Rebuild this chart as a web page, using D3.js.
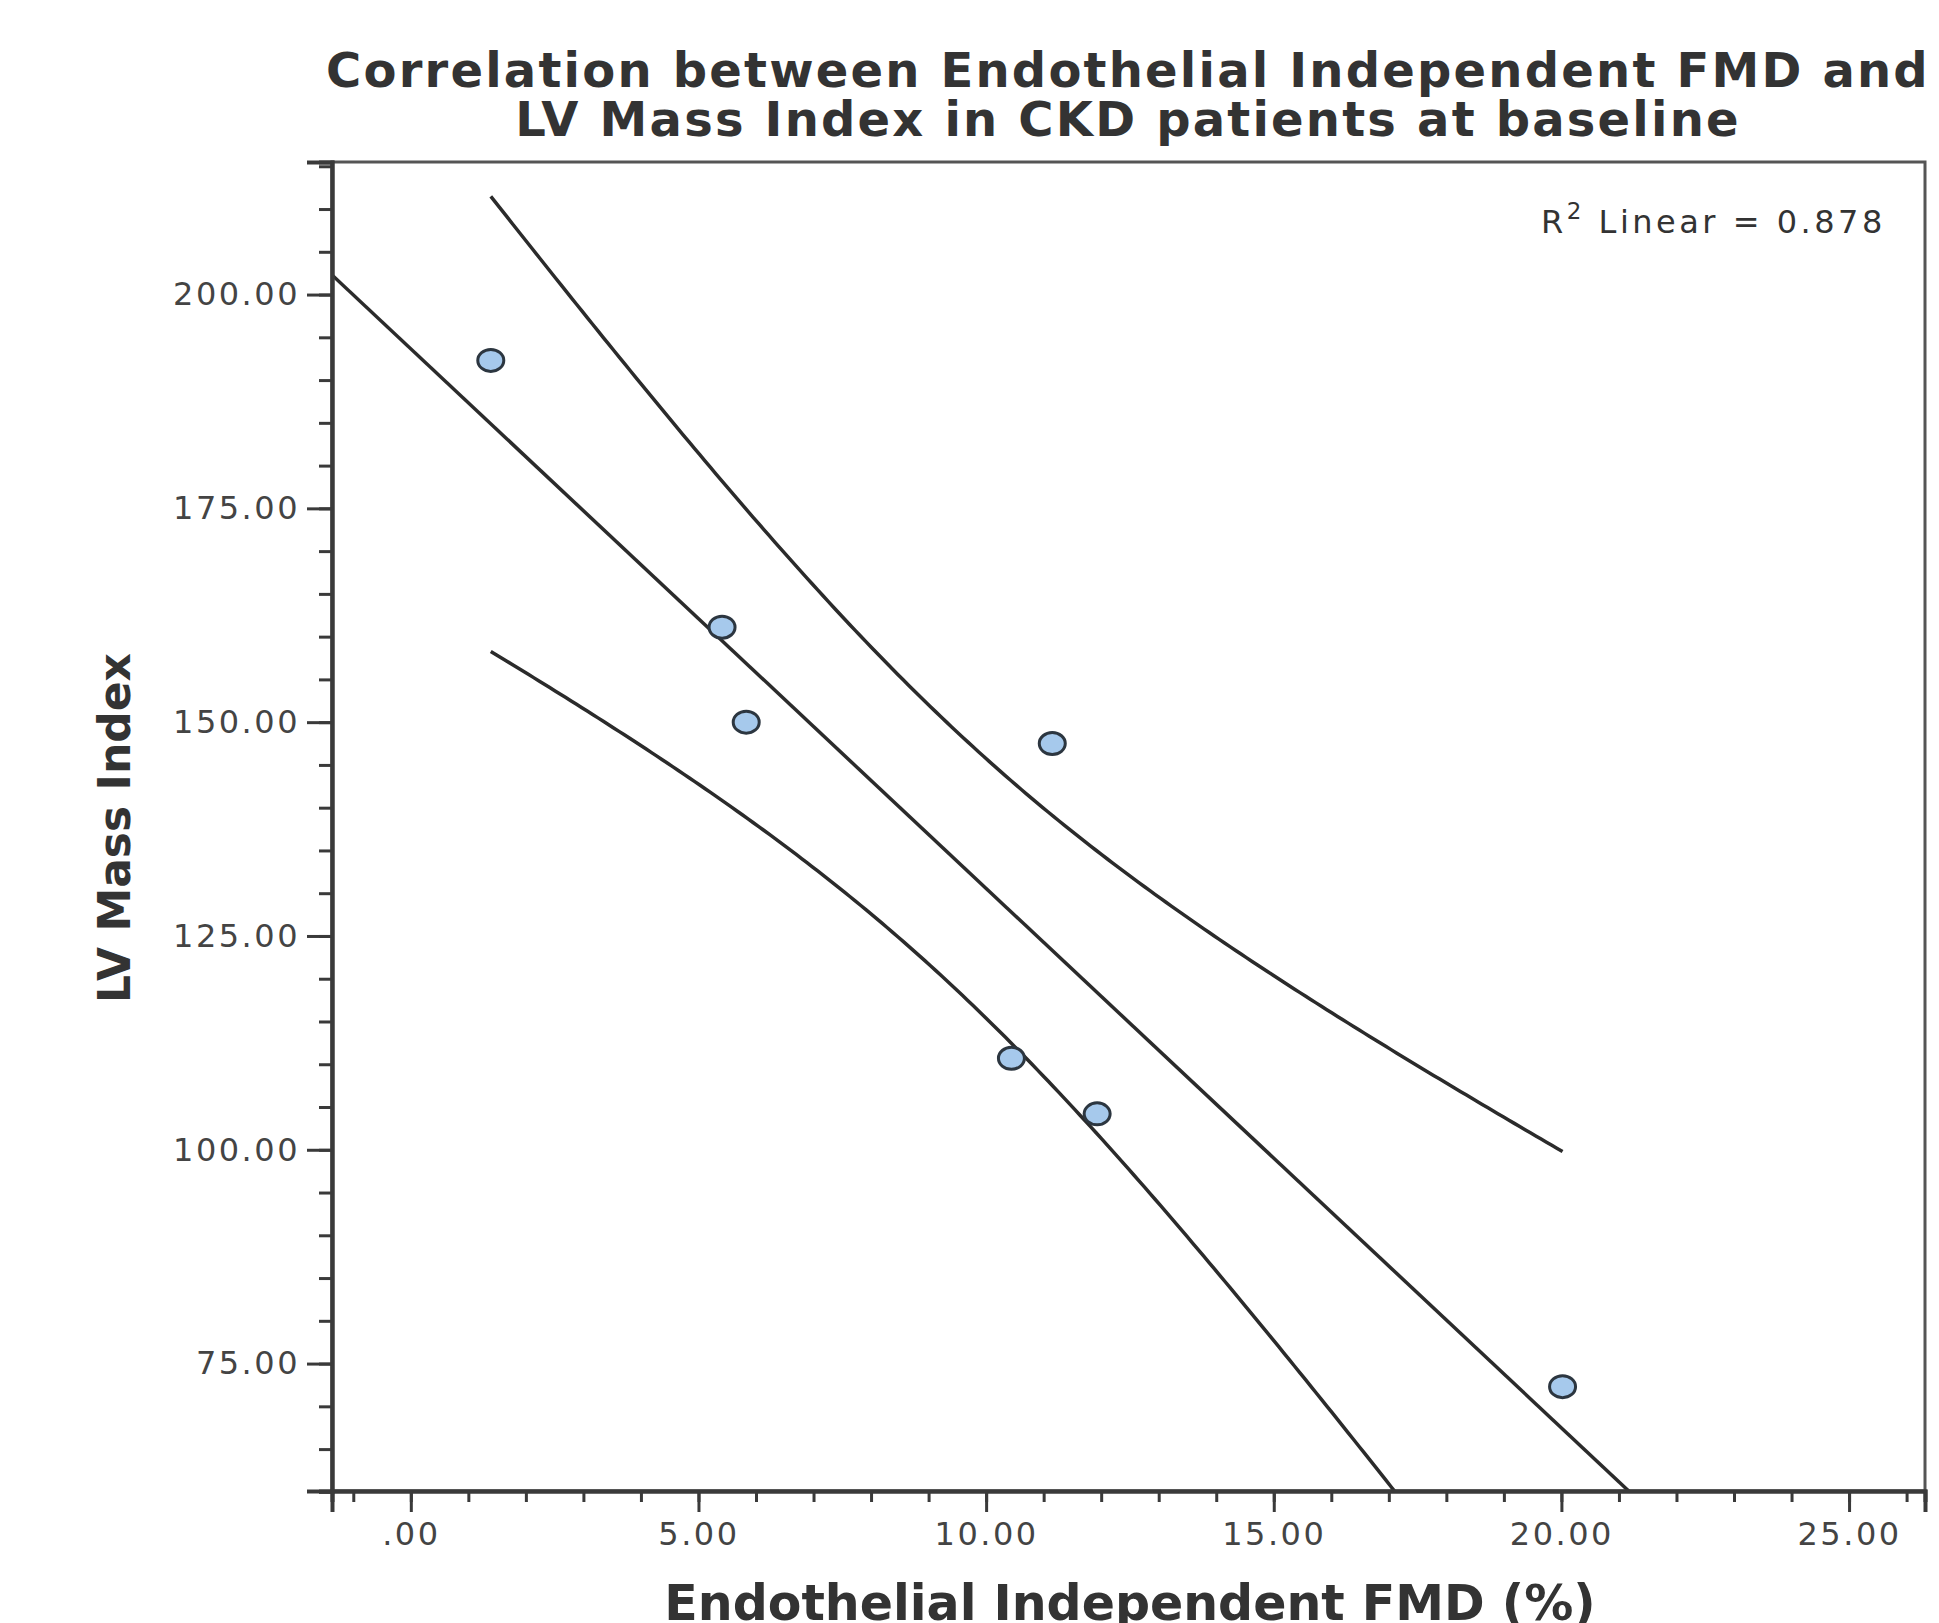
<!DOCTYPE html>
<html>
<head>
<meta charset="utf-8">
<script src="https://cdn.jsdelivr.net/npm/d3@7"></script>
<style>
    body { margin: 0; background: #fff; }
    text { font-family: "DejaVu Sans", Verdana, sans-serif; }
</style>
</head>
<body>
<script>
// values
const fmd = [1.39, 5.41, 5.83, 11.15, 10.44, 11.93, 20.02];
const lvMass = [192.3, 161.1, 150.0, 147.5, 110.7, 104.2, 72.3];
const xTicks = [0, 5, 10, 15, 20, 25];
const yTicks = [75, 100, 125, 150, 175, 200];
const titleLines = ["Correlation between Endothelial Independent FMD and",
                    "LV Mass Index in CKD patients at baseline"];

const width = 1939;
const height = 1623;
const plot = { left: 332, right: 1925, top: 162, bottom: 1491 };

const x = d3.scaleLinear().domain([-1.37, 26.32]).range([plot.left, plot.right]);
const y = d3.scaleLinear().domain([60.1, 215.5]).range([plot.bottom, plot.top]);
const fmt = d => d === 0 ? ".00" : d3.format(".2f")(d);

var svg = d3.select("body")
    .append("svg")
    .attr("width", width)
    .attr("height", height);

// least squares fit + 95% CI of the mean (t, df = 5)
const n = fmd.length;
const mx = d3.mean(fmd), my = d3.mean(lvMass);
const sxx = d3.sum(fmd, d => (d - mx) * (d - mx));
const sxy = d3.sum(fmd, (d, i) => (d - mx) * (lvMass[i] - my));
const slope = sxy / sxx;
const icpt = my - slope * mx;
const sse = d3.sum(fmd, (d, i) => Math.pow(lvMass[i] - (icpt + slope * d), 2));
const se = Math.sqrt(sse / (n - 2));
const tcrit = 2.5706;
const fit = v => icpt + slope * v;
const half = v => tcrit * se * Math.sqrt(1 / n + (v - mx) * (v - mx) / sxx);

svg.append("clipPath")
    .attr("id", "clip")
    .append("rect")
    .attr("x", plot.left)
    .attr("y", plot.top)
    .attr("width", plot.right - plot.left)
    .attr("height", plot.bottom - plot.top);

// frame
svg.append("rect")
    .attr("x", plot.left)
    .attr("y", plot.top)
    .attr("width", plot.right - plot.left)
    .attr("height", plot.bottom - plot.top)
    .attr("fill", "none")
    .attr("stroke", "#555")
    .attr("stroke-width", 3);

const lines = svg.append("g")
    .attr("clip-path", "url(#clip)")
    .attr("fill", "none")
    .attr("stroke", "#2b2b2b")
    .attr("stroke-width", 3.5);

const line = d3.line().x(d => x(d[0])).y(d => y(d[1]));

lines.append("path")
    .attr("d", line(x.domain().map(v => [v, fit(v)])));

const xs = d3.range(0, 201).map(i => d3.min(fmd) + (d3.max(fmd) - d3.min(fmd)) * i / 200);
lines.append("path")
    .attr("d", line(xs.map(v => [v, fit(v) + half(v)])));
lines.append("path")
    .attr("d", line(xs.map(v => [v, fit(v) - half(v)])));

// axes
const yAxis = svg.append("g")
    .attr("transform", `translate(${plot.left},0)`);
yAxis.append("g")
    .call(d3.axisLeft(y).tickValues(d3.range(60, 216, 5)).tickSize(13).tickFormat(""));
yAxis.append("g")
    .call(d3.axisLeft(y).tickValues(yTicks).tickSize(25).tickPadding(7).tickFormat(fmt));

const xAxis = svg.append("g")
    .attr("transform", `translate(0,${plot.bottom})`);
xAxis.append("g")
    .call(d3.axisBottom(x).tickValues(d3.range(-1, 27, 1)).tickSize(11).tickFormat(""));
xAxis.append("g")
    .call(d3.axisBottom(x).tickValues(xTicks).tickSize(21).tickPadding(10).tickFormat(fmt));

svg.selectAll(".domain")
    .attr("stroke", "#3a3a3a")
    .attr("stroke-width", 4);
svg.selectAll(".tick line")
    .attr("stroke", "#3a3a3a")
    .attr("stroke-width", 3);
svg.selectAll(".tick text")
    .attr("fill", "#444")
    .style("font-size", "32px")
    .style("letter-spacing", "2.5px");

// points
svg.append("g")
    .selectAll("ellipse")
    .data(fmd)
    .enter()
    .append("ellipse")
    .attr("cx", d => x(d))
    .attr("cy", (d, i) => y(lvMass[i]))
    .attr("rx", 13)
    .attr("ry", 11)
    .attr("fill", "#a6c9ec")
    .attr("stroke", "#2c3640")
    .attr("stroke-width", 3);

// R squared note
const note = svg.append("text")
    .attr("x", 1541)
    .attr("y", 233)
    .attr("fill", "#333")
    .style("font-size", "32px")
    .style("letter-spacing", "3.5px");
note.append("tspan").text("R");
note.append("tspan").attr("dy", -14).style("font-size", "23px").text("2");
note.append("tspan").attr("dy", 14).text(" Linear = 0.878");

// titles
svg.append("g")
    .selectAll("text")
    .data(titleLines)
    .enter()
    .append("text")
    .attr("x", 1128)
    .attr("y", (d, i) => 87 + i * 49)
    .attr("text-anchor", "middle")
    .attr("fill", "#333")
    .style("font-size", "48px")
    .style("font-weight", "bold")
    .style("letter-spacing", "2.2px")
    .text(d => d);

svg.append("text")
    .attr("x", 1130)
    .attr("y", 1620)
    .attr("text-anchor", "middle")
    .attr("fill", "#333")
    .style("font-size", "49px")
    .style("font-weight", "bold")
    .text("Endothelial Independent FMD (%)");

svg.append("text")
    .attr("transform", "translate(130,828) rotate(-90)")
    .attr("text-anchor", "middle")
    .attr("fill", "#333")
    .style("font-size", "44px")
    .style("font-weight", "bold")
    .text("LV Mass Index");
</script>
</body>
</html>
